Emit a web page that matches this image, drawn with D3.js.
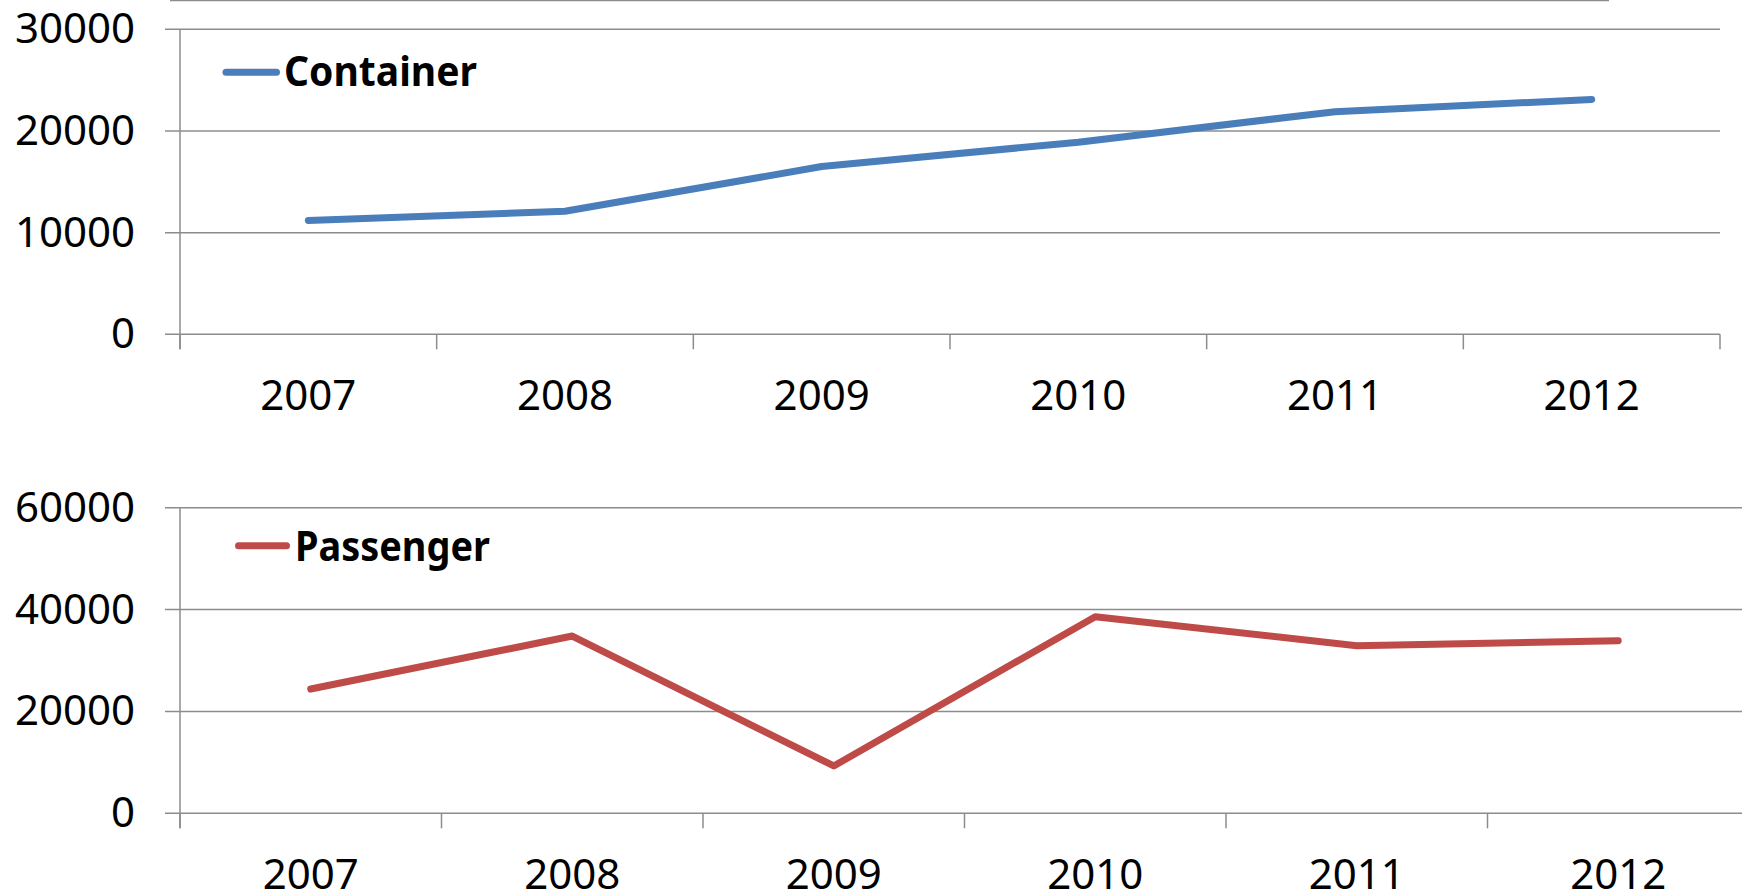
<!DOCTYPE html>
<html>
<head>
<meta charset="utf-8">
<script src="https://cdn.jsdelivr.net/npm/d3@7"></script>
<style>
  html, body { margin: 0; padding: 0; background: #fff; overflow: hidden; }
  svg { display: block; }
</style>
</head>
<body>
<svg id="chart" width="1742" height="895"></svg>
<script>
// ---- Data ----
const years = ["2007", "2008", "2009", "2010", "2011", "2012"];
const containerValues = [11200, 12100, 16500, 18900, 21900, 23100];
const passengerValues = [24400, 34800, 9300, 38600, 32900, 33900];
const containerTicks = [0, 10000, 20000, 30000];
const passengerTicks = [0, 20000, 40000, 60000];
const seriesNames = ["Container", "Passenger"];

// ---- Layout ----
const svg = d3.select("#chart");
const GRID = "#8c8c8c";
const FONT = "'Noto Sans', 'Open Sans', sans-serif";

// remnant border of the chart above
svg.append("line")
  .attr("x1", 170).attr("x2", 1609).attr("y1", 0.6).attr("y2", 0.6)
  .attr("stroke", GRID).attr("stroke-width", 1.5);

const panels = [
  { name: seriesNames[0], values: containerValues, ticks: containerTicks, color: "#4A7EBB",
    left: 180, right: 1720, top: 29.3, bottom: 334.3,
    legLine: [226, 276.5, 72.3], legText: [284, 85.5, 193] },
  { name: seriesNames[1], values: passengerValues, ticks: passengerTicks, color: "#BE4B48",
    left: 180, right: 1749, top: 507.7, bottom: 813.3,
    legLine: [238.5, 286.5, 545.7], legText: [295, 561, 195] }
];

panels.forEach(p => {
  const x = d3.scaleBand().domain(years).range([p.left, p.right]);
  const y = d3.scaleLinear().domain([0, d3.max(p.ticks)]).range([p.bottom, p.top]);
  const g = svg.append("g");

  // horizontal gridlines + left ticks
  g.selectAll("line.grid").data(p.ticks).enter().append("line")
    .attr("x1", p.left - 15).attr("x2", p.right)
    .attr("y1", d => y(d)).attr("y2", d => y(d))
    .attr("stroke", GRID).attr("stroke-width", 1.5);

  // y axis line
  g.append("line")
    .attr("x1", p.left).attr("x2", p.left)
    .attr("y1", y(d3.max(p.ticks))).attr("y2", p.bottom + 15)
    .attr("stroke", GRID).attr("stroke-width", 1.5);

  // x category ticks (band boundaries)
  const bounds = years.map(d => x(d)).concat([p.right]);
  g.selectAll("line.xt").data(bounds).enter().append("line")
    .attr("x1", d => d).attr("x2", d => d)
    .attr("y1", p.bottom).attr("y2", p.bottom + 15)
    .attr("stroke", GRID).attr("stroke-width", 1.5);

  // y labels
  g.selectAll("text.yl").data(p.ticks).enter().append("text")
    .attr("x", 135).attr("y", d => y(d) + 14)
    .attr("text-anchor", "end")
    .attr("font-family", FONT).attr("font-size", 42).attr("fill", "#000")
    .text(d => d);

  // x labels
  g.selectAll("text.xl").data(years).enter().append("text")
    .attr("x", d => x(d) + x.bandwidth() / 2).attr("y", p.bottom + 75.5)
    .attr("text-anchor", "middle")
    .attr("font-family", FONT).attr("font-size", 42).attr("fill", "#000")
    .text(d => d);

  // series line
  const line = d3.line()
    .x((d, i) => x(years[i]) + x.bandwidth() / 2)
    .y(d => y(d));
  g.append("path")
    .datum(p.values)
    .attr("d", line)
    .attr("fill", "none")
    .attr("stroke", p.color).attr("stroke-width", 7)
    .attr("stroke-linecap", "round").attr("stroke-linejoin", "round");

  // legend
  g.append("line")
    .attr("x1", p.legLine[0]).attr("x2", p.legLine[1])
    .attr("y1", p.legLine[2]).attr("y2", p.legLine[2])
    .attr("stroke", p.color).attr("stroke-width", 7).attr("stroke-linecap", "round");
  g.append("text")
    .attr("x", p.legText[0]).attr("y", p.legText[1])
    .attr("font-family", FONT).attr("font-size", 41).attr("font-weight", "bold").attr("fill", "#000")
    .attr("textLength", p.legText[2]).attr("lengthAdjust", "spacingAndGlyphs")
    .text(p.name);
});
</script>
</body>
</html>
